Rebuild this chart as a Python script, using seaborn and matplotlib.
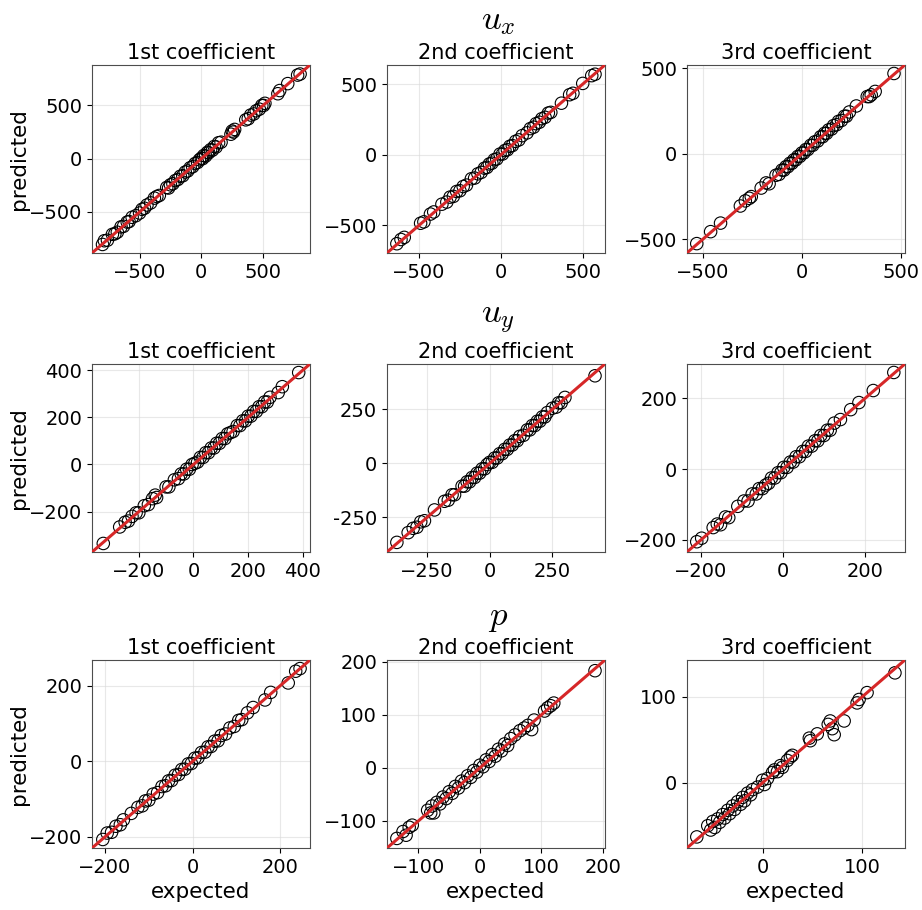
import numpy as np
import matplotlib
matplotlib.use('Agg')
import matplotlib.pyplot as plt
import seaborn as sns

# expected / predicted values per panel
ux1_exp = [-800, -785, -760, -720, -700, -680, -650, -630, -600, -585, -560, -530, -500, -480, -460,
           -440, -410, -380, -360, -340, -280, -265, -250, -230, -210, -190, -170, -150, -130, -110,
           -90, -70, -50, -30, -15, 0, 10, 20, 35, 50, 60, 75, 90, 105, 120,
           140, 160, 240, 250, 260, 270, 360, 380, 400, 425, 445, 470, 490, 505, 515,
           620, 635, 700, 780, 800]
ux1_pred = [-805, -770, -765, -710, -705, -690, -640, -635, -595, -590, -550, -535, -510, -475, -465,
            -435, -415, -370, -355, -345, -270, -275, -245, -235, -205, -195, -165, -160, -125, -115,
            -85, -75, -45, -35, -10, 5, 0, 30, 25, 60, 55, 85, 80, 115, 110,
            150, 155, 230, 260, 250, 275, 365, 375, 410, 420, 450, 465, 500, 500, 520,
            610, 640, 705, 785, 795]

ux2_exp = [-635, -610, -590, -490, -470, -430, -410, -360, -330, -310, -290, -270, -250, -230, -210,
           -180, -160, -140, -120, -100, -85, -70, -55, -40, -25, -5, 10, 25, 40, 55,
           70, 90, 110, 130, 160, 180, 200, 215, 235, 250, 270, 290, 305, 370, 420,
           440, 500, 555, 575]
ux2_pred = [-630, -600, -585, -485, -475, -420, -405, -350, -335, -300, -295, -260, -255, -225, -215,
            -170, -165, -135, -125, -95, -90, -65, -60, -35, -30, 5, 5, 30, 35, 60,
            65, 95, 105, 135, 155, 185, 195, 220, 230, 255, 265, 295, 300, 365, 425,
            435, 505, 560, 570]

ux3_exp = [-530, -460, -410, -310, -285, -265, -255, -205, -180, -165, -130, -115, -100, -90, -80,
           -70, -60, -50, -40, -30, -20, -10, 0, 10, 20, 30, 45, 55, 65, 80,
           95, 105, 115, 125, 135, 150, 160, 175, 185, 200, 215, 225, 240, 275, 330,
           340, 350, 370, 465]
ux3_pred = [-525, -455, -405, -305, -275, -260, -250, -200, -170, -175, -125, -120, -95, -95, -75,
            -75, -55, -55, -35, -35, -15, -15, 5, 5, 25, 25, 50, 50, 70, 75,
            100, 100, 120, 120, 140, 145, 165, 170, 190, 195, 220, 220, 245, 280, 335,
            335, 345, 365, 470]

uy1_exp = [-330, -270, -250, -238, -225, -210, -200, -180, -165, -150, -140, -135, -100, -90, -70,
           -55, -45, -35, -25, -15, -5, 5, 15, 25, 35, 45, 55, 65, 75, 85,
           95, 105, 115, 125, 135, 145, 160, 170, 180, 190, 200, 210, 220, 230, 240,
           250, 260, 270, 280, 310, 325, 385]
uy1_pred = [-335, -265, -245, -240, -220, -205, -205, -175, -170, -145, -130, -140, -95, -95, -65,
            -60, -40, -40, -20, -20, 0, 5, 10, 30, 30, 50, 50, 70, 70, 90,
            90, 110, 110, 130, 135, 140, 165, 165, 185, 185, 205, 205, 225, 225, 245,
            245, 265, 265, 285, 305, 330, 390]

uy2_exp = [-370, -325, -305, -290, -275, -260, -220, -180, -165, -150, -140, -110, -100, -90, -80,
           -70, -60, -50, -40, -30, -20, -10, 0, 10, 20, 30, 40, 50, 60, 70,
           80, 90, 100, 110, 120, 135, 150, 160, 170, 180, 190, 200, 210, 220, 230,
           250, 265, 275, 285, 300, 420]
uy2_pred = [-365, -320, -300, -295, -270, -265, -215, -175, -170, -145, -145, -105, -105, -85, -85,
            -65, -65, -45, -45, -25, -25, -5, 5, 5, 25, 25, 45, 45, 65, 65,
            85, 85, 105, 105, 125, 130, 155, 155, 175, 175, 195, 195, 215, 215, 235,
            255, 260, 280, 280, 305, 405]

uy3_exp = [-210, -198, -170, -160, -152, -140, -132, -110, -95, -85, -75, -65, -58, -50, -42,
           -35, -28, -20, -12, -5, 2, 10, 18, 25, 32, 40, 48, 55, 62, 70,
           78, 85, 92, 100, 108, 115, 125, 140, 165, 185, 220, 270]
uy3_pred = [-205, -195, -165, -155, -157, -135, -137, -105, -90, -90, -70, -70, -55, -55, -45,
            -40, -25, -25, -10, -10, 5, 5, 20, 20, 35, 35, 50, 50, 65, 65,
            80, 80, 95, 95, 110, 110, 130, 140, 168, 188, 222, 273]

p1_exp = [-205, -195, -185, -175, -165, -158, -140, -125, -115, -108, -100, -90, -80, -70, -62,
          -55, -48, -40, -32, -25, -18, -10, -3, 5, 12, 20, 28, 35, 42, 50,
          58, 65, 75, 85, 95, 105, 112, 125, 138, 165, 178, 218, 235, 245]
p1_pred = [-207, -190, -188, -172, -168, -155, -138, -122, -118, -105, -103, -87, -83, -67, -65,
           -52, -51, -37, -35, -22, -21, -7, -6, 8, 9, 23, 24, 38, 39, 53,
           54, 68, 72, 88, 92, 108, 110, 128, 142, 162, 182, 207, 238, 245]

p2_exp = [-135, -125, -120, -115, -110, -85, -80, -78, -75, -70, -65, -60, -55, -50, -45,
          -40, -35, -30, -25, -20, -15, -10, -5, 0, 5, 10, 15, 20, 25, 30,
          35, 40, 45, 50, 57, 65, 72, 78, 84, 88, 105, 110, 115, 120, 187]
p2_pred = [-133, -120, -127, -112, -108, -80, -85, -72, -85, -65, -68, -55, -58, -45, -48,
           -35, -38, -25, -28, -15, -18, -5, -8, 5, 2, 15, 12, 25, 22, 35,
           32, 45, 42, 55, 62, 70, 75, 80, 72, 90, 107, 113, 117, 122, 183]

p3_exp = [-66, -55, -52, -50, -48, -45, -43, -40, -38, -35, -33, -30, -28, -25, -22,
          -20, -18, -15, -12, -10, -5, 0, 2, 5, 10, 12, 15, 18, 20, 25,
          28, 30, 47, 48, 55, 66, 68, 70, 72, 82, 95, 97, 105, 133]
p3_pred = [-63, -50, -55, -45, -52, -42, -46, -37, -41, -32, -36, -27, -31, -22, -25,
           -17, -21, -12, -14, -8, -5, 3, -2, 5, 12, 15, 13, 20, 18, 26,
           30, 32, 52, 49, 57, 68, 72, 63, 56, 72, 93, 97, 105, 128]

row_titles = [r'$u_x$', r'$u_y$', r'$p$']
col_titles = ['1st coefficient', '2nd coefficient', '3rd coefficient']

panels = [
    [(ux1_exp, ux1_pred), (ux2_exp, ux2_pred), (ux3_exp, ux3_pred)],
    [(uy1_exp, uy1_pred), (uy2_exp, uy2_pred), (uy3_exp, uy3_pred)],
    [(p1_exp, p1_pred), (p2_exp, p2_pred), (p3_exp, p3_pred)],
]

ticks = [
    [[-500, 0, 500], [-500, 0, 500], [-500, 0, 500]],
    [[-200, 0, 200, 400], [-250, 0, 250], [-200, 0, 200]],
    [[-200, 0, 200], [-100, 0, 100, 200], [0, 100]],
]

plt.rcParams['mathtext.fontset'] = 'cm'

fig = plt.figure(figsize=(9.22, 9.10), dpi=100)

lefts = [0.0998, 0.4197, 0.745]
bottoms = [0.722, 0.3934, 0.0681]
w, h = 0.2364, 0.2066

for i in range(3):
    for j in range(3):
        ax = fig.add_axes([lefts[j], bottoms[i], w, h])
        x, y = panels[i][j]
        sns.scatterplot(x=x, y=y, ax=ax, s=80, facecolor='none', edgecolor='black',
                        linewidth=0.8, zorder=2)
        lo = min(ax.get_xlim()[0], ax.get_ylim()[0])
        hi = max(ax.get_xlim()[1], ax.get_ylim()[1])
        ax.plot([lo, hi], [lo, hi], color='#d62728', linewidth=2.2, zorder=3)
        ax.set_xlim(lo, hi)
        ax.set_ylim(lo, hi)
        ax.set_xticks(ticks[i][j])
        ax.set_yticks(ticks[i][j])
        if i == 1 and j == 1:
            ax.set_yticklabels([str(t) for t in ticks[i][j]])
        ax.tick_params(labelsize=14)
        ax.grid(True, color='0.85', linewidth=0.8, alpha=0.6)
        ax.set_axisbelow(True)
        for s in ax.spines.values():
            s.set_color('0.3')
        ax.set_title(col_titles[j], fontsize=15, pad=4)
        if j == 0:
            ax.set_ylabel('predicted', fontsize=15.5)
            ax.yaxis.set_label_coords(-0.29, 0.5)
        if i == 2:
            ax.set_xlabel('expected', fontsize=15.5)

for i, t in enumerate(row_titles):
    ypos = [0.978, 0.650, 0.322][i]
    fig.text(0.540, ypos, t, fontsize=25, ha='center', va='center')

plt.savefig('out.png', dpi=100)
